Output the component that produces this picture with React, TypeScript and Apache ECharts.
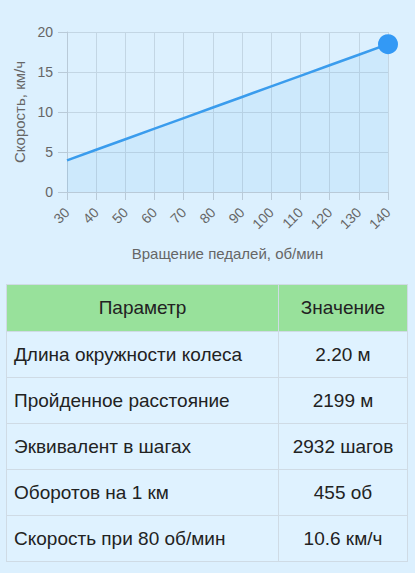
import React, { useEffect, useRef } from "react";
import * as echarts from "echarts";

const rpmLabels = ["30", "40", "50", "60", "70", "80", "90", "100", "110", "120", "130", "140"];
const speedValues = [3.96, 5.28, 6.6, 7.92, 9.24, 10.56, 11.88, 13.2, 14.52, 15.84, 17.16, 18.48];
const xAxisTitle = "Вращение педалей, об/мин";
const yAxisTitle = "Скорость, км/ч";
const tableHeader = ["Параметр", "Значение"];
const paramNames = [
  "Длина окружности колеса",
  "Пройденное расстояние",
  "Эквивалент в шагах",
  "Оборотов на 1 км",
  "Скорость при 80 об/мин",
];
const paramValues = ["2.20 м", "2199 м", "2932 шагов", "455 об", "10.6 км/ч"];

const FONT = '"Liberation Sans", Arial, Helvetica, sans-serif';
const BG = "#dcf0fe";

function Chart() {
  const ref = useRef<HTMLDivElement>(null);
  useEffect(() => {
    if (!ref.current) return;
    const chart = echarts.init(ref.current, undefined, { renderer: "svg" });
    const lastIdx = speedValues.length - 1;
    chart.setOption({
      animation: false,
      textStyle: { fontFamily: FONT },
      grid: { left: 67, right: 27, top: 32, bottom: 78 },
      xAxis: {
        type: "category",
        data: rpmLabels,
        boundaryGap: false,
        name: xAxisTitle,
        nameLocation: "middle",
        nameGap: 54,
        nameTextStyle: { color: "#666", fontSize: 15, fontFamily: FONT },
        axisLine: { show: true, lineStyle: { color: "#b9cad8", width: 1 } },
        axisTick: { show: true, alignWithLabel: true, length: 8, lineStyle: { color: "#b9cad8" } },
        axisLabel: { rotate: 45, color: "#666", fontSize: 14, margin: 18, fontFamily: FONT, interval: 0 },
        splitLine: { show: true, lineStyle: { color: "#c3d6e4", width: 1 } },
      },
      yAxis: {
        type: "value",
        min: 0,
        max: 20,
        interval: 5,
        name: yAxisTitle,
        nameLocation: "middle",
        nameGap: 40,
        nameTextStyle: { color: "#666", fontSize: 15, fontFamily: FONT },
        axisLine: { show: true, lineStyle: { color: "#b9cad8" } },
        axisTick: { show: true, length: 9, lineStyle: { color: "#b9cad8" } },
        axisLabel: { color: "#666", fontSize: 14, margin: 14, fontFamily: FONT },
        splitLine: { show: true, lineStyle: { color: "#c3d6e4", width: 1 } },
      },
      series: [
        {
          type: "line",
          data: speedValues.map((v, i) =>
            i === lastIdx
              ? { value: v, symbol: "circle", symbolSize: 20 }
              : { value: v, symbol: "none" }
          ),
          showAllSymbol: true,
          lineStyle: { color: "#3a9ced", width: 2.5 },
          itemStyle: { color: "#3399f5", borderWidth: 0 },
          areaStyle: { color: "rgba(54,162,235,0.12)" },
          z: 3,
        },
      ],
    });
    return () => chart.dispose();
  }, []);
  return <div ref={ref} style={{ width: 415, height: 270 }} />;
}

export default function App() {
  const cellBorder = "1px solid #cfdbe5";
  const rowH = 46;
  return (
    <div style={{ position: "fixed", left: 0, top: 0, width: 415, height: 573, background: BG, fontFamily: FONT, overflow: "hidden" }}>
      <div style={{ position: "absolute", left: 0, top: 0 }}>
        <Chart />
      </div>
      <table
        style={{
          position: "absolute",
          left: 6,
          top: 284,
          width: 402,
          borderCollapse: "collapse",
          fontSize: 19,
          color: "#222",
          fontFamily: FONT,
        }}
      >
        <thead>
          <tr style={{ height: 47, background: "#98e19b" }}>
            <th style={{ width: 271, fontWeight: "normal", border: cellBorder, padding: 0 }}>{tableHeader[0]}</th>
            <th style={{ fontWeight: "normal", border: cellBorder, padding: 0 }}>{tableHeader[1]}</th>
          </tr>
        </thead>
        <tbody>
          {paramNames.map((n, i) => (
            <tr key={n} style={{ height: rowH, background: "#dff2ff" }}>
              <td style={{ border: cellBorder, padding: "0 0 0 7px", textAlign: "left" }}>{n}</td>
              <td style={{ border: cellBorder, padding: 0, textAlign: "center" }}>{paramValues[i]}</td>
            </tr>
          ))}
        </tbody>
      </table>
    </div>
  );
}
